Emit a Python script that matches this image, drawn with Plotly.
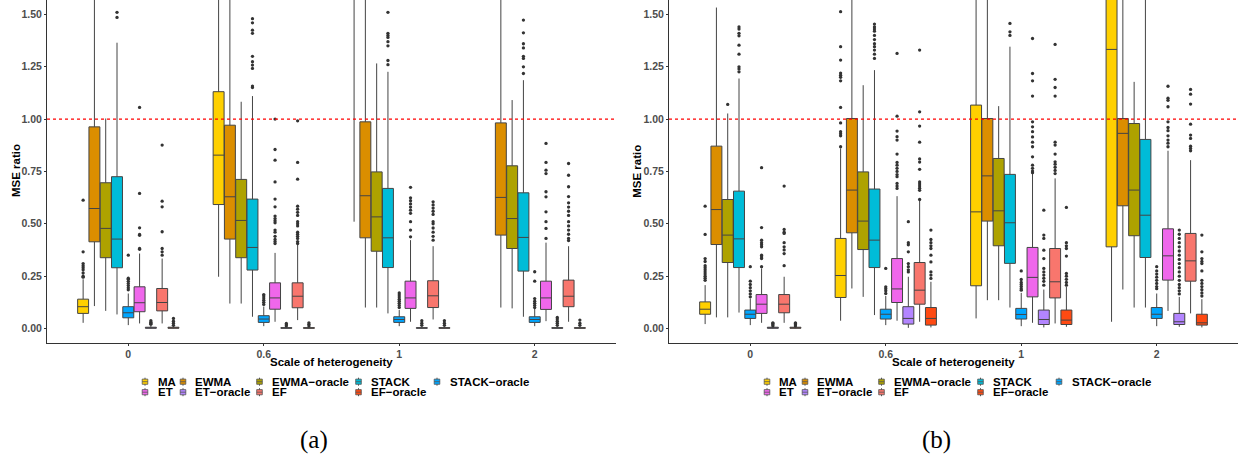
import plotly.graph_objects as go

W, H = 1238, 456

groups = ["0", "0.6", "1", "2"]
methods = ["MA", "EWMA", "EWMA−oracle", "STACK", "STACK−oracle",
           "ET", "ET−oracle", "EF", "EF−oracle"]
colors = ["#FFD000", "#DB8E00", "#AEA200", "#00BCD8", "#00A6FF",
          "#EF67EB", "#B385FF", "#F8766D", "#FF4A12"]
y_ticks = [0.0, 0.25, 0.5, 0.75, 1.0, 1.25, 1.5]
ref_value = 1.0

# ---------------- panel (a) ----------------
a_q1 = [[0.072, 0.592, 1.70, 3.00],
        [0.414, 0.427, 0.433, 0.446],
        [0.338, 0.338, 0.369, 0.382],
        [0.290, 0.279, 0.291, 0.274],
        [0.051, 0.029, 0.029, 0.029],
        [0.080, 0.092, 0.096, 0.091],
        [0.001, 0.001, 0.001, 0.001],
        [0.084, 0.099, 0.100, 0.104],
        [0.001, 0.001, 0.001, 0.001]]
a_med = [[0.104, 0.828, 2.40, 4.20],
         [0.573, 0.629, 0.634, 0.626],
         [0.478, 0.516, 0.533, 0.525],
         [0.427, 0.387, 0.433, 0.435],
         [0.075, 0.045, 0.043, 0.043],
         [0.123, 0.146, 0.146, 0.146],
         [0.003, 0.002, 0.002, 0.002],
         [0.124, 0.154, 0.156, 0.154],
         [0.003, 0.002, 0.002, 0.002]]
a_q3 = [[0.140, 1.131, 3.20, 5.80],
        [0.963, 0.971, 0.987, 0.982],
        [0.696, 0.712, 0.748, 0.777],
        [0.725, 0.618, 0.669, 0.648],
        [0.104, 0.061, 0.056, 0.056],
        [0.199, 0.218, 0.226, 0.226],
        [0.006, 0.004, 0.004, 0.004],
        [0.191, 0.218, 0.228, 0.231],
        [0.006, 0.004, 0.004, 0.004]]
a_lo = [[0.027, 0.247, 0.510, 1.80],
        [0.107, 0.119, 0.100, 0.100],
        [0.084, 0.119, 0.100, 0.096],
        [0.067, 0.056, 0.072, 0.056],
        [0.016, 0.011, 0.011, 0.011],
        [0.024, 0.032, 0.032, 0.035],
        [0.000, 0.000, 0.000, 0.000],
        [0.024, 0.040, 0.043, 0.032],
        [0.000, 0.000, 0.000, 0.000]]
a_hi = [[0.235, 1.93, 5.50, 9.00],
        [1.78, 1.78, 1.81, 1.78],
        [1.003, 1.083, 1.266, 1.091],
        [1.365, 1.110, 1.226, 1.186],
        [0.167, 0.105, 0.088, 0.095],
        [0.358, 0.361, 0.422, 0.410],
        [0.012, 0.008, 0.008, 0.008],
        [0.334, 0.401, 0.393, 0.393],
        [0.012, 0.008, 0.008, 0.008]]
a_out = [
    [[0.613, 0.366, 0.31, 0.30, 0.29, 0.28, 0.265, 0.25, 0.245], [], [], []],
    [[], [], [], []],
    [[], [], [], []],
    [[1.51, 1.486],
     [1.48, 1.46, 1.425, 1.41, 1.30, 1.274, 1.258, 1.242, 1.158, 1.151],
     [1.51, 1.41, 1.40, 1.39, 1.37, 1.35, 1.28, 1.26],
     [1.473, 1.412, 1.36, 1.34, 1.30, 1.29, 1.25, 1.218]],
    [[0.35, 0.24, 0.235, 0.225, 0.215, 0.205, 0.195, 0.185],
     [0.162, 0.155, 0.145, 0.135, 0.125, 0.115],
     [0.17, 0.16, 0.15, 0.14, 0.13, 0.12, 0.11, 0.10],
     [0.271, 0.226, 0.143, 0.13, 0.12, 0.11, 0.10]],
    [[1.056, 0.645, 0.481, 0.449, 0.445, 0.382, 0.378],
     [1.0, 0.855, 0.804, 0.70, 0.618, 0.581, 0.537, 0.525, 0.515, 0.505,
      0.47, 0.46, 0.44, 0.425, 0.415, 0.406],
     [0.674, 0.624, 0.61, 0.595, 0.58, 0.565, 0.55, 0.51, 0.47, 0.438],
     [0.884, 0.793, 0.756, 0.74, 0.653, 0.629, 0.557, 0.51, 0.478, 0.43]],
    [[0.02, 0.025, 0.03, 0.037], [0.012, 0.018, 0.024],
     [0.015, 0.025, 0.037], [0.015, 0.025, 0.035, 0.045, 0.053]],
    [[0.876, 0.608, 0.581, 0.462, 0.382, 0.366, 0.35],
     [0.992, 0.793, 0.713, 0.584, 0.57, 0.555, 0.54, 0.51, 0.5, 0.49,
      0.46, 0.45, 0.44, 0.43, 0.415, 0.406],
     [0.605, 0.59, 0.575, 0.56, 0.545, 0.51, 0.5, 0.48, 0.46, 0.44, 0.422],
     [0.788, 0.732, 0.677, 0.63, 0.6, 0.58, 0.56, 0.54, 0.51, 0.49, 0.47,
      0.45, 0.43, 0.42]],
    [[0.015, 0.025, 0.035, 0.048], [0.012, 0.02, 0.027],
     [0.015, 0.025, 0.037], [0.015, 0.025, 0.04]],
]

# ---------------- panel (b) ----------------
b_q1 = [[0.068, 0.148, 0.204, 0.390],
        [0.401, 0.457, 0.513, 0.586],
        [0.315, 0.377, 0.395, 0.443],
        [0.291, 0.291, 0.311, 0.339],
        [0.048, 0.045, 0.045, 0.048],
        [0.072, 0.124, 0.151, 0.231],
        [0.001, 0.021, 0.019, 0.019],
        [0.075, 0.116, 0.146, 0.226],
        [0.001, 0.016, 0.019, 0.016]]
b_med = [[0.092, 0.253, 0.557, 1.333],
         [0.568, 0.661, 0.729, 0.932],
         [0.446, 0.513, 0.562, 0.661],
         [0.428, 0.422, 0.505, 0.541],
         [0.068, 0.068, 0.067, 0.068],
         [0.116, 0.189, 0.244, 0.347],
         [0.003, 0.048, 0.043, 0.032],
         [0.116, 0.183, 0.223, 0.323],
         [0.003, 0.048, 0.040, 0.027]]
b_q3 = [[0.127, 0.430, 1.067, 2.20],
        [0.871, 1.003, 1.003, 1.003],
        [0.616, 0.748, 0.812, 0.979],
        [0.656, 0.666, 0.736, 0.903],
        [0.088, 0.092, 0.096, 0.100],
        [0.162, 0.334, 0.387, 0.476],
        [0.006, 0.104, 0.088, 0.072],
        [0.162, 0.315, 0.382, 0.454],
        [0.006, 0.100, 0.088, 0.068]]
b_lo = [[0.021, 0.037, 0.048, 0.032],
        [0.053, 0.191, 0.135, 0.186],
        [0.053, 0.151, 0.135, 0.100],
        [0.076, 0.064, 0.100, 0.100],
        [0.016, 0.016, 0.011, 0.011],
        [0.027, 0.037, 0.027, 0.084],
        [0.000, 0.003, 0.005, 0.008],
        [0.027, 0.032, 0.024, 0.072],
        [0.000, 0.005, 0.008, 0.005]]
b_hi = [[0.207, 0.860, 2.35, 4.00],
        [1.533, 1.82, 1.74, 1.63],
        [1.027, 1.162, 1.062, 1.178],
        [1.194, 1.234, 1.346, 1.72],
        [0.143, 0.155, 0.170, 0.167],
        [0.287, 0.632, 0.740, 0.849],
        [0.012, 0.247, 0.186, 0.151],
        [0.247, 0.613, 0.717, 0.804],
        [0.012, 0.223, 0.199, 0.140]]
b_out = [
    [[0.584, 0.449, 0.334, 0.32, 0.30, 0.29, 0.28, 0.27, 0.26, 0.25, 0.24, 0.23],
     [1.513, 1.346, 1.282, 1.22, 1.21, 1.20, 1.183, 1.056, 0.982, 0.94, 0.93,
      0.92, 0.868],
     [], []],
    [[], [], [], []],
    [[1.07], [], [], []],
    [[1.44, 1.43, 1.41, 1.398, 1.353, 1.31, 1.25, 1.24, 1.226],
     [1.454, 1.44, 1.43, 1.42, 1.40, 1.38, 1.36, 1.346, 1.33, 1.31, 1.29],
     [1.457, 1.417, 1.40], []],
    [[0.295, 0.226, 0.21, 0.195, 0.18, 0.165, 0.151],
     [0.287, 0.199, 0.19, 0.18, 0.167],
     [0.275, 0.234, 0.22, 0.21, 0.2, 0.19, 0.183],
     [0.295, 0.275, 0.26, 0.245, 0.23, 0.215, 0.2, 0.19]],
    [[0.768, 0.482, 0.422, 0.41, 0.40, 0.39, 0.35, 0.342, 0.334, 0.295],
     [1.314, 1.014, 0.943, 0.916, 0.90, 0.833, 0.793, 0.78, 0.765, 0.75,
      0.735, 0.725, 0.693, 0.68, 0.669],
     [1.385, 1.218, 1.183, 1.11, 0.987, 0.963, 0.94, 0.915, 0.89, 0.868,
      0.82, 0.78, 0.765, 0.752, 0.744],
     [1.157, 1.10, 1.09, 1.059, 0.987, 0.96, 0.945, 0.92, 0.90, 0.885, 0.868]],
    [[0.012, 0.018, 0.024, 0.027],
     [0.51, 0.41, 0.40, 0.366, 0.31, 0.295, 0.28, 0.27],
     [0.565, 0.446, 0.43, 0.374, 0.334, 0.287, 0.27, 0.255, 0.24, 0.225, 0.207],
     [0.47, 0.45, 0.43, 0.41, 0.39, 0.37, 0.35, 0.33, 0.31, 0.29, 0.27, 0.25,
      0.23, 0.21, 0.195, 0.18, 0.165]],
    [[0.68, 0.473, 0.46, 0.454, 0.41, 0.39, 0.375, 0.358, 0.30],
     [1.33, 1.035, 0.967, 0.89, 0.81, 0.795, 0.76, 0.70, 0.69, 0.68, 0.67,
      0.66, 0.616],
     [1.357, 1.19, 1.151, 1.11, 0.89, 0.876, 0.833, 0.796, 0.785, 0.77,
      0.755, 0.74],
     [1.142, 1.119, 1.072, 0.976, 0.924, 0.908, 0.871, 0.86, 0.849]],
    [[0.012, 0.018, 0.024, 0.027],
     [0.47, 0.425, 0.41, 0.395, 0.382, 0.35, 0.318, 0.27, 0.255, 0.239],
     [0.578, 0.41, 0.395, 0.382, 0.346, 0.263, 0.25, 0.235, 0.22, 0.207],
     [0.446, 0.366, 0.334, 0.32, 0.31, 0.275, 0.23, 0.215, 0.2, 0.185, 0.17,
      0.155]],
]

# ---------------- figure ----------------
SANS = "Liberation Sans"
SERIF = "Liberation Serif"
LINE = "#444444"

fig = go.Figure()
n = len(methods)
dodge = 0.75
bw = dodge / n


def add_panel(q1, med, q3, lo, hi, out, xa, ya):
    for mi, m in enumerate(methods):
        off = (mi - (n - 1) / 2) * bw
        xs = [gi + off for gi in range(len(groups))]
        fig.add_trace(go.Box(
            x=xs, q1=q1[mi], median=med[mi], q3=q3[mi],
            lowerfence=lo[mi], upperfence=hi[mi],
            width=bw * 0.97, fillcolor=colors[mi],
            line=dict(color=LINE, width=1), whiskerwidth=0,
            boxpoints=False, name=m, showlegend=False,
            xaxis=xa, yaxis=ya, hoverinfo="skip"))
        ox, oy = [], []
        for gi in range(len(groups)):
            for v in out[mi][gi]:
                ox.append(gi + off)
                oy.append(v)
        if ox:
            fig.add_trace(go.Scatter(
                x=ox, y=oy, mode="markers",
                marker=dict(size=3.3, color="#333333"),
                showlegend=False, xaxis=xa, yaxis=ya, hoverinfo="skip"))


add_panel(a_q1, a_med, a_q3, a_lo, a_hi, a_out, "x", "y")
add_panel(b_q1, b_med, b_q3, b_lo, b_hi, b_out, "x2", "y2")


def px_x(px):
    return px / W


def px_y(py):
    return 1 - py / H


tickfont = dict(family=SANS, size=10.5, color="#4D4D4D", weight="bold")
xcommon = dict(range=[-0.6, 3.6], tickmode="array",
               tickvals=list(range(len(groups))), ticktext=groups,
               showline=True, linecolor="#333333", linewidth=1,
               ticks="outside", ticklen=2, tickcolor="#333333",
               tickfont=tickfont, showgrid=False, zeroline=False)
ycommon = dict(range=[-0.067, 1.569], tickmode="array", tickvals=y_ticks,
               ticktext=[f"{v:.2f}" for v in y_ticks],
               showline=True, linecolor="#333333", linewidth=1,
               ticks="outside", ticklen=2, tickcolor="#333333",
               tickfont=tickfont, showgrid=False, zeroline=False,
               domain=[px_y(342.5), 1.0])

panels = [dict(x0=47, x1=616, shift=0, label="(a)"),
          dict(x0=669, x1=1238, shift=622, label="(b)")]

fig.update_layout(
    width=W, height=H, margin=dict(l=0, r=0, t=0, b=0),
    paper_bgcolor="white", plot_bgcolor="white", showlegend=False,
    boxmode="overlay", font=dict(family=SANS),
    xaxis=dict(xcommon, domain=[px_x(47), px_x(616)], anchor="y"),
    yaxis=dict(ycommon, anchor="x"),
    xaxis2=dict(xcommon, domain=[px_x(669), px_x(1238)], anchor="y2"),
    yaxis2=dict(ycommon, anchor="x2"),
)

shapes = []
annotations = []
for pi, (p, xr, yr) in enumerate(zip(panels, ["x", "x2"], ["y", "y2"])):
    shapes.append(dict(type="line", xref=f"{xr} domain", yref=yr,
                       x0=0, x1=1, y0=ref_value, y1=ref_value,
                       line=dict(color="#FF0000", width=1.2, dash="dot"),
                       layer="above"))
    # axis titles
    annotations.append(dict(text="MSE ratio", textangle=-90, xref="paper",
                            yref="paper", x=px_x(16 + p["shift"] * 0.998),
                            y=px_y(171), showarrow=False, xanchor="center",
                            yanchor="middle",
                            font=dict(family=SANS, size=11.5, color="black",
                                      weight="bold")))
    annotations.append(dict(text="Scale of heterogeneity", xref="paper",
                            yref="paper", x=px_x((p["x0"] + p["x1"]) / 2),
                            y=px_y(362), showarrow=False, xanchor="center",
                            yanchor="middle",
                            font=dict(family=SANS, size=11.5, color="black",
                                      weight="bold")))
    annotations.append(dict(text=p["label"], xref="paper", yref="paper",
                            x=px_x(314 + p["shift"]), y=px_y(440),
                            showarrow=False, xanchor="center",
                            yanchor="middle",
                            font=dict(family=SERIF, size=25, color="black")))
    # legend (ggplot-like, 2 rows x 5 columns)
    key_x = [145, 183, 259.5, 358.5, 437]
    row_y = [381.7, 392.2]
    for mi, m in enumerate(methods):
        col = mi % 5
        row = mi // 5
        kx = key_x[col] + p["shift"]
        ky = row_y[row]
        shapes.append(dict(type="line", xref="paper", yref="paper",
                           x0=px_x(kx), x1=px_x(kx), y0=px_y(ky - 4),
                           y1=px_y(ky + 4),
                           line=dict(color="#555555", width=1)))
        shapes.append(dict(type="rect", xref="paper", yref="paper",
                           x0=px_x(kx - 2.8), x1=px_x(kx + 2.8),
                           y0=px_y(ky - 2.6), y1=px_y(ky + 2.6),
                           fillcolor=colors[mi],
                           line=dict(color="#555555", width=0.8)))
        shapes.append(dict(type="line", xref="paper", yref="paper",
                           x0=px_x(kx - 2.8), x1=px_x(kx + 2.8),
                           y0=px_y(ky), y1=px_y(ky),
                           line=dict(color="#555555", width=0.8)))
        annotations.append(dict(text=m, xref="paper", yref="paper",
                                x=px_x(kx + 10.5), y=px_y(ky),
                                showarrow=False, xanchor="left",
                                yanchor="middle",
                                font=dict(family=SANS, size=11.5,
                                          color="black", weight="bold")))

fig.update_layout(shapes=shapes, annotations=annotations)
fig.write_html(
    "out.html",
    config={"displayModeBar": False, "staticPlot": True},
    post_script="document.body.style.margin='0';"
                "document.body.style.overflow='hidden';")
